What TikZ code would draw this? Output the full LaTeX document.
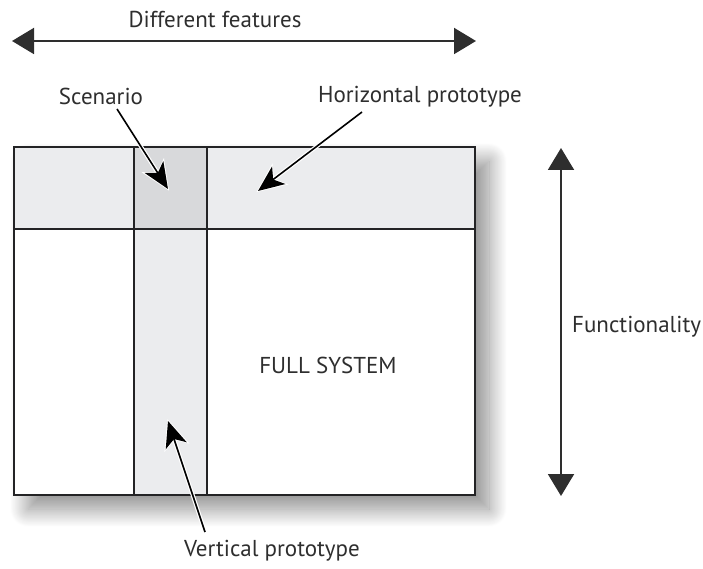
\documentclass[tikz,border=0pt]{standalone}
\usepackage{fontspec}
\setmainfont{PT Sans}
\usetikzlibrary{arrows.meta,shadows.blur}

\definecolor{bandgray}{HTML}{EBECEE}
\definecolor{cellgray}{HTML}{D8D9DB}
\definecolor{inkgray}{HTML}{2E2E2E}
\definecolor{rulegray}{HTML}{232325}

\tikzset{
  label text/.style={font=\fontsize{23}{26}\selectfont, text=inkgray, inner sep=0pt},
  grid line/.style={line width=2pt, draw=rulegray},
  span arrow/.style={{Triangle[length=22pt,width=26pt]}-{Triangle[length=22pt,width=26pt]}, line width=2pt, draw=inkgray, fill=inkgray},
  pointer/.style={-{Stealth[length=26pt,width=22pt,inset=7pt]}, line width=1.6pt, draw=black,
    preaction={draw=white, line width=4pt, -{Stealth[length=30pt,width=26pt,inset=8pt]}, shorten >=-2pt}},
}

\begin{document}
\begin{tikzpicture}[x=1pt, y=-1pt]
  \useasboundingbox (0,0) rectangle (703,569);

  % system box with its shadow
  \fill[white, blur shadow={shadow xshift=14pt, shadow yshift=-14pt, shadow blur radius=18pt,
      shadow blur steps=30, shadow opacity=45}]
    (14,147) rectangle (475,495);
  \fill[bandgray] (14,147) rectangle (475,229);
  \fill[bandgray] (134,229) rectangle (207,495);
  \fill[cellgray] (134,147) rectangle (207,229);
  \draw[grid line] (14,147) rectangle (475,495);
  \draw[grid line] (14,229) -- (475,229);
  \draw[grid line] (134,147) -- (134,495);
  \draw[grid line] (207,147) -- (207,495);

  \node[label text] (full) at (328,365) {FULL SYSTEM};

  % the two axes
  \coordinate (featL) at (12,41);
  \coordinate (featR) at (476,41);
  \draw[span arrow] (featL) -- (featR);
  \node[label text] (feat) at (215,19) {Different features};

  \coordinate (funcT) at (561,148);
  \coordinate (funcB) at (561,496);
  \draw[span arrow] (funcT) -- (funcB);
  \node[label text, anchor=west] (func) at (572,327) {Functionality};

  % pointers into the box
  \node[label text] (scen) at (101,96) {Scenario};
  \coordinate (scenTip) at (168,189);
  \draw[pointer] (117,109) -- (scenTip);

  \node[label text] (horiz) at (420,97) {Horizontal prototype};
  \coordinate (horizTip) at (258,191);
  \draw[pointer] (362,112) -- (horizTip);

  \node[label text] (vert) at (272,551) {Vertical prototype};
  \coordinate (vertTip) at (168,421);
  \draw[pointer] (205,532) -- (vertTip);
\end{tikzpicture}
\end{document}
